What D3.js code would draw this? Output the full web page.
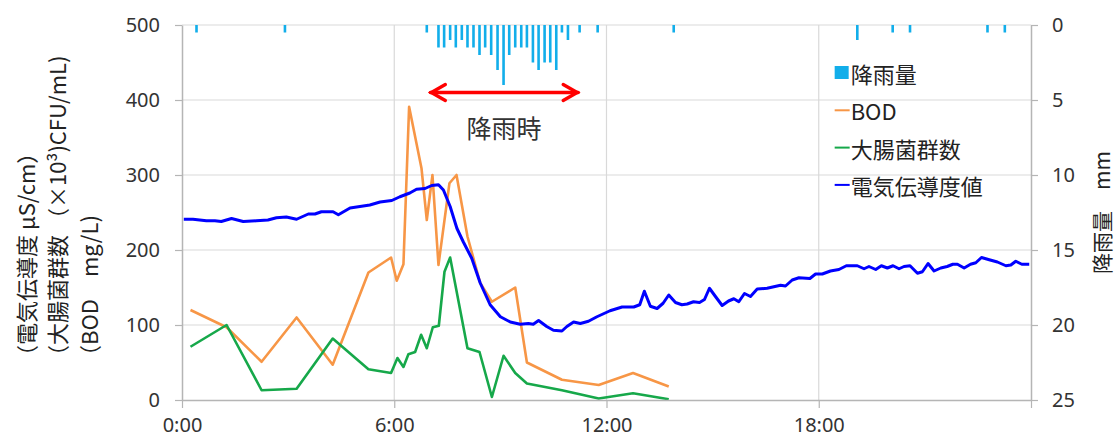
<!DOCTYPE html>
<html>
<head>
<meta charset="utf-8">
<script src="https://cdn.jsdelivr.net/npm/d3@7"></script>
<style>
  body { margin: 0; background: #fff; }
  text { font-family: "Noto Sans CJK JP", "Noto Sans", sans-serif; }
</style>
</head>
<body>
<div id="wrapper"></div>
<script>
// DATA (time in hours from 0:00)
const rainTimes = [0.41, 2.91, 6.92, 7.25, 7.41, 7.58, 7.74, 7.91, 8.07, 8.24, 8.41, 8.57, 8.74, 8.92, 9.09, 9.25, 9.42, 9.59, 9.75, 9.92, 10.08, 10.25, 10.41, 10.58, 10.74, 10.91, 11.24, 11.75, 13.9, 19.09, 20.09, 20.58, 22.77, 23.26]
const rainValues = [0.5, 0.5, 0.5, 1.5, 1.5, 1.0, 1.5, 1.0, 1.5, 1.5, 2.0, 1.5, 2.0, 3.0, 4.0, 2.0, 1.5, 1.5, 1.5, 2.5, 3.0, 2.5, 2.5, 3.0, 0.5, 1.0, 0.5, 0.5, 0.5, 1.0, 0.5, 0.5, 0.5, 0.5]

const bodTimes = [0.24, 1.26, 2.25, 3.24, 4.26, 5.27, 5.91, 6.07, 6.26, 6.42, 6.77, 6.92, 7.08, 7.25, 7.56, 7.76, 8.07, 8.43, 8.76, 9.42, 9.75, 10.74, 11.78, 12.75, 13.76]
const bodValues = [120, 97, 51, 110, 47, 170, 190, 159, 181, 391, 309, 240, 300, 180, 289, 300, 218, 156, 131, 150, 50, 27, 20, 36, 18]

const coliTimes = [0.24, 1.26, 2.25, 3.24, 4.26, 5.27, 5.91, 6.09, 6.26, 6.40, 6.59, 6.76, 6.92, 7.09, 7.26, 7.42, 7.58, 8.07, 8.41, 8.76, 9.09, 9.42, 9.75, 10.74, 11.78, 12.75, 13.76]
const coliValues = [71, 100, 13, 15, 82, 41, 36, 56, 44, 61, 64, 87, 69, 97, 99, 171, 190, 69, 64, 4, 59, 36, 22, 13, 2, 9, 1]

const ecTimes = [0.05, 0.31, 0.69, 0.93, 1.11, 1.40, 1.73, 2.1, 2.43, 2.67, 2.95, 3.24, 3.57, 3.76, 3.94, 4.27, 4.42, 4.75, 5.03, 5.31, 5.6, 5.93, 6.16, 6.44, 6.63, 6.87, 7.06, 7.25, 7.39, 7.58, 7.77, 7.95, 8.19, 8.43, 8.71, 9.0, 9.28, 9.56, 9.79, 9.93, 10.08, 10.31, 10.5, 10.74, 10.88, 11.07, 11.26, 11.49, 11.73, 12.1, 12.44, 12.77, 12.94, 13.07, 13.24, 13.43, 13.6, 13.76, 13.95, 14.13, 14.28, 14.46, 14.63, 14.77, 14.91, 15.08, 15.27, 15.45, 15.6, 15.74, 15.9, 16.07, 16.26, 16.54, 16.73, 16.92, 17.06, 17.25, 17.44, 17.75, 17.91, 18.1, 18.33, 18.57, 18.78, 19.09, 19.28, 19.42, 19.61, 19.77, 19.94, 20.1, 20.27, 20.41, 20.58, 20.79, 20.93, 21.09, 21.26, 21.45, 21.63, 21.79, 21.92, 22.11, 22.29, 22.44, 22.6, 22.82, 23.05, 23.29, 23.43, 23.57, 23.74, 23.95]
const ecValues = [241, 241, 239, 239, 238, 242, 238, 239, 240, 243, 244, 241, 248, 248, 251, 251, 247, 256, 258, 260, 264, 266, 271, 276, 281, 282, 286, 287, 280, 258, 229, 211, 189, 156, 127, 111, 104, 101, 102, 101, 106, 98, 93, 92, 98, 104, 102, 105, 111, 119, 124, 124, 127, 145, 125, 122, 129, 140, 130, 127, 128, 131, 130, 134, 149, 138, 126, 132, 135, 131, 142, 138, 148, 149, 151, 153, 152, 160, 163, 162, 168, 168, 172, 174, 179, 179, 175, 178, 174, 179, 176, 179, 175, 178, 179, 169, 171, 182, 172, 176, 178, 181, 181, 176, 181, 183, 190, 187, 184, 179, 180, 185, 181, 181]

const xTickValues = [0, 6, 12, 18, 24]
const xTickLabels = ['0:00', '6:00', '12:00', '18:00', '']
const leftTicks = [0, 100, 200, 300, 400, 500]
const rightTicks = [0, 5, 10, 15, 20, 25]

const seriesNames = ['降雨量', 'BOD', '大腸菌群数', '電気伝導度値']
const seriesColors = ['#12aeea', '#f79646', '#16a84a', '#0000ff']

function drawChart() {
  // zip arrays into point lists
  const zip = (ts, vs) => ts.map((t, i) => ({ t: t, v: vs[i] }))
  const rain = zip(rainTimes, rainValues)
  const bod = zip(bodTimes, bodValues)
  const coli = zip(coliTimes, coliValues)
  const ec = zip(ecTimes, ecValues)

  let dimensions = {
    width: 1115,
    height: 439,
    margin: { top: 25, right: 84, bottom: 39, left: 182 }
  }
  dimensions.boundedWidth = dimensions.width - dimensions.margin.left - dimensions.margin.right
  dimensions.boundedHeight = dimensions.height - dimensions.margin.top - dimensions.margin.bottom

  const wrapper = d3.select('#wrapper')
    .append('svg')
    .attr('width', dimensions.width)
    .attr('height', dimensions.height)

  const bounds = wrapper.append('g')
    .attr('transform', `translate(${dimensions.margin.left},${dimensions.margin.top})`)

  // SCALES
  const xScale = d3.scaleLinear().domain([0, 24]).range([0, dimensions.boundedWidth])
  const yScale = d3.scaleLinear().domain([0, 500]).range([dimensions.boundedHeight, 0])
  const rainScale = d3.scaleLinear().domain([0, 25]).range([0, dimensions.boundedHeight])

  // gridlines
  bounds.append('g')
    .selectAll('line')
    .data(leftTicks.filter(d => d > 0))
    .join('line')
    .attr('x1', 0).attr('x2', dimensions.boundedWidth)
    .attr('y1', d => yScale(d)).attr('y2', d => yScale(d))
    .attr('stroke', '#d9d9d9').attr('stroke-width', 1.2)

  bounds.append('g')
    .selectAll('line')
    .data(xTickValues.filter(d => d > 0 && d < 24))
    .join('line')
    .attr('x1', d => xScale(d)).attr('x2', d => xScale(d))
    .attr('y1', 0).attr('y2', dimensions.boundedHeight)
    .attr('stroke', '#d9d9d9').attr('stroke-width', 1.2)

  // rain bars hanging from the top
  bounds.append('g')
    .selectAll('rect')
    .data(rain)
    .join('rect')
    .attr('x', d => xScale(d.t) - 1.3)
    .attr('y', rainScale(0))
    .attr('width', 2.6)
    .attr('height', d => rainScale(d.v) - rainScale(0))
    .attr('fill', seriesColors[0])

  // lines
  const lineGenerator = d3.line()
    .x(d => xScale(d.t))
    .y(d => yScale(d.v))

  bounds.append('path')
    .attr('d', lineGenerator(bod))
    .attr('fill', 'none')
    .attr('stroke', seriesColors[1])
    .attr('stroke-width', 2.6)
    .attr('stroke-linejoin', 'round')

  bounds.append('path')
    .attr('d', lineGenerator(coli))
    .attr('fill', 'none')
    .attr('stroke', seriesColors[2])
    .attr('stroke-width', 2.6)
    .attr('stroke-linejoin', 'round')

  bounds.append('path')
    .attr('d', lineGenerator(ec))
    .attr('fill', 'none')
    .attr('stroke', seriesColors[3])
    .attr('stroke-width', 3)
    .attr('stroke-linejoin', 'round')

  // AXES
  const styleAxis = g => {
    g.select('.domain').attr('stroke', '#b5b5b5').attr('stroke-width', 1.5)
    g.selectAll('.tick line').attr('stroke', '#b5b5b5').attr('stroke-width', 1.2)
    g.selectAll('.tick text')
      .attr('fill', '#333')
      .style('font-family', '"Noto Sans", sans-serif')
      .style('font-size', '20px')
  }

  const yAxis = bounds.append('g')
    .call(d3.axisLeft(yScale).tickValues(leftTicks).tickSize(7).tickSizeOuter(0).tickPadding(15))
    .call(styleAxis)

  const rAxis = bounds.append('g')
    .attr('transform', `translate(${dimensions.boundedWidth},0)`)
    .call(d3.axisRight(rainScale).tickValues(rightTicks).tickSize(7).tickSizeOuter(0).tickPadding(14))
    .call(styleAxis)

  const xAxis = bounds.append('g')
    .attr('transform', `translate(0,${dimensions.boundedHeight})`)
    .call(d3.axisBottom(xScale).tickValues(xTickValues).tickFormat((d, i) => xTickLabels[i])
      .tickSize(8).tickSizeOuter(0).tickPadding(10))
    .call(styleAxis)

  // axis titles
  const leftTitles = ['（電気伝導度 μS/cm）', '（大腸菌群数 （×10³)CFU/mL)', '（BOD　mg/L)']
  const leftTitleX = [25, 56, 88]
  leftTitles.forEach((t, i) => {
    wrapper.append('text')
      .attr('transform', `translate(${leftTitleX[i]},367) rotate(-90)`)
      .attr('dominant-baseline', 'central')
      .attr('fill', '#222')
      .style('font-size', '22px')
      .text(t)
  })

  wrapper.append('text')
    .attr('transform', `translate(1101,${dimensions.margin.top + dimensions.boundedHeight / 2}) rotate(-90)`)
    .attr('text-anchor', 'middle')
    .attr('dominant-baseline', 'central')
    .attr('fill', '#222')
    .style('font-size', '21px')
    .text('降雨量　mm')

  // LEGEND
  const legend = bounds.append('g')
    .attr('transform', `translate(${xScale(18.45)},${yScale(436)})`)
  seriesNames.forEach((name, i) => {
    const row = legend.append('g').attr('transform', `translate(0,${i * 37.3})`)
    if (i === 0) {
      row.append('rect').attr('x', 0).attr('y', -7).attr('width', 14).attr('height', 13)
        .attr('fill', seriesColors[i])
    } else {
      row.append('line').attr('x1', 0).attr('x2', 15).attr('y1', 0).attr('y2', 0)
        .attr('stroke', seriesColors[i]).attr('stroke-width', 2)
    }
    row.append('text')
      .attr('x', 16)
      .attr('dominant-baseline', 'central')
      .attr('fill', '#222')
      .style('font-size', '22px')
      .text(name)
  })

  // rain period arrow + label
  const ay = yScale(410)
  const ax1 = xScale(7.02)
  const ax2 = xScale(11.2)
  const arrow = bounds.append('g').attr('stroke', '#ff0000').attr('stroke-width', 3.4)
    .attr('fill', 'none').attr('stroke-linecap', 'round')
  arrow.append('line').attr('x1', ax1).attr('x2', ax2).attr('y1', ay).attr('y2', ay)
  arrow.append('path').attr('d', `M${ax1 + 15},${ay - 8}L${ax1 + 1},${ay}L${ax1 + 15},${ay + 8}`)
  arrow.append('path').attr('d', `M${ax2 - 15},${ay - 8}L${ax2 - 1},${ay}L${ax2 - 15},${ay + 8}`)

  bounds.append('text')
    .attr('x', xScale(9.1))
    .attr('y', yScale(349))
    .attr('text-anchor', 'middle')
    .attr('fill', '#333')
    .style('font-size', '25px')
    .text('降雨時')
}

drawChart()
</script>
</body>
</html>
